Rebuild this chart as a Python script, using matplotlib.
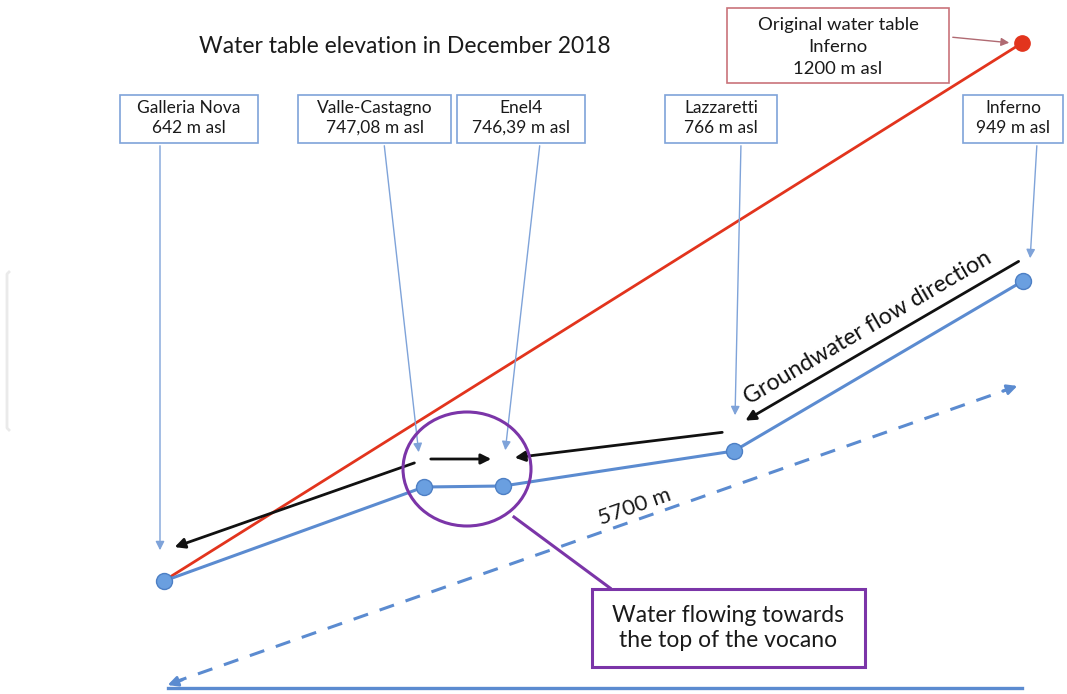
import matplotlib.pyplot as plt
from matplotlib.patches import Rectangle, Ellipse

plt.rcParams['font.family'] = ['Lato', 'DejaVu Sans']

# wells: name, label, point position on the sketch (pixels, y downwards)
well_names = ["Galleria Nova", "Valle-Castagno", "Enel4", "Lazzaretti", "Inferno"]
well_elev = ["642 m asl", "747,08 m asl", "746,39 m asl", "766 m asl", "949 m asl"]
well_x = [164, 424, 503, 734, 1023]
well_y = [581, 487, 486, 451, 281]

orig_name = "Original water table\nInferno"
orig_elev = "1200 m asl"
orig_x, orig_y = 1022, 43

distance_label = "5700 m"

# label boxes (x0, x1) and pointer lines (start -> tip)
box_x = [(120, 258), (298, 451), (457, 585), (665, 777), (963, 1063)]
ptr_start = [(160, 143), (384, 143), (540, 143), (741, 143), (1037, 143)]
ptr_tip = [(160, 553), (419, 455), (505, 453), (735, 418), (1030, 261)]

blue = '#5b8bd0'
edge_blue = '#7fa3d9'
red = '#e2341d'
purple = '#7b35a8'
txt = '#1a1a1a'

fig = plt.figure(figsize=(10.67, 6.94), dpi=100)
ax = fig.add_axes([0, 0, 1, 1])
ax.set_xlim(0, 1067)
ax.set_ylim(694, 0)
ax.axis('off')

ax.text(405, 46, "Water table elevation in December 2018", ha='center', va='center',
        fontsize=16.5, color=txt)

# faint bracket on the left
ax.plot([9, 7, 7, 9], [272, 274, 428, 430], color='#eaeaea', lw=2)

# red original water table line
ax.plot([170, orig_x], [577, orig_y], color=red, lw=2, zorder=3)
ax.plot(orig_x, orig_y, 'o', color=red, ms=11, zorder=4)
ax.add_patch(Rectangle((727, 8), 222, 75, fill=False, ec='#c9737a', lw=1.2))
ax.text(838, 47, orig_name + "\n" + orig_elev, ha='center', va='center', fontsize=13.3,
        color=txt, linespacing=1.45)
ax.annotate("", xy=(1012, 43), xytext=(950, 37),
            arrowprops=dict(arrowstyle='-|>', color='#b06a72', lw=1, mutation_scale=12))

# present water table
ax.plot(well_x, well_y, color=blue, lw=2.2, zorder=3)
ax.plot(well_x, well_y, 'o', color='#6a9fe0', mec='#4d7fc4', ms=11.5, zorder=4)

for name, elev, (x0, x1), s, t in zip(well_names, well_elev, box_x, ptr_start, ptr_tip):
    ax.add_patch(Rectangle((x0, 95), x1 - x0, 48, fill=False, ec=edge_blue, lw=1.2))
    ax.text((x0 + x1) / 2, 118, name + "\n" + elev, ha='center', va='center',
            fontsize=12.5, color=txt, linespacing=1.25)
    ax.annotate("", xy=t, xytext=s,
                arrowprops=dict(arrowstyle='-|>', color=edge_blue, lw=1, mutation_scale=13))

# groundwater flow arrows
flow = [((1021, 260), (743, 422)), ((725, 432), (512, 458)),
        ((428, 459), (494, 459)), ((417, 462), (172, 548))]
for s, t in flow:
    ax.annotate("", xy=t, xytext=s,
                arrowprops=dict(arrowstyle='-|>', color='#111111', lw=2, mutation_scale=15))
ax.text(868, 328, "Groundwater flow direction", rotation=30.4, rotation_mode='anchor',
        ha='center', va='center', fontsize=16.7, color='#111111')

# distance arrow (dashed shaft, solid heads) and base line
ax.plot([172, 1012], [683, 388], color=blue, lw=2.2, ls=(0, (5, 4)))
ax.annotate("", xy=(165, 686), xytext=(185, 679),
            arrowprops=dict(arrowstyle='-|>', color=blue, lw=2, mutation_scale=15))
ax.annotate("", xy=(1020, 385), xytext=(1000, 392),
            arrowprops=dict(arrowstyle='-|>', color=blue, lw=2, mutation_scale=15))
ax.plot([168, 1022], [688, 688], color=blue, lw=2.4)
ax.text(635, 507, distance_label, rotation=19.4, rotation_mode='anchor',
        ha='center', va='center', fontsize=16, color=txt)

# highlight circle and callout
ax.add_patch(Ellipse((467, 469), 128, 114, fill=False, ec=purple, lw=2.2, zorder=5))
ax.plot([514, 610], [517, 588], color=purple, lw=2.2)
ax.add_patch(Rectangle((592, 589), 273, 78, fc='white', ec=purple, lw=2.2, zorder=5))
ax.text(728, 628, "Water flowing towards\nthe top of the vocano", ha='center', va='center',
        fontsize=16.5, color=txt, linespacing=1.2, zorder=6)

fig.savefig("out.png", dpi=100)
